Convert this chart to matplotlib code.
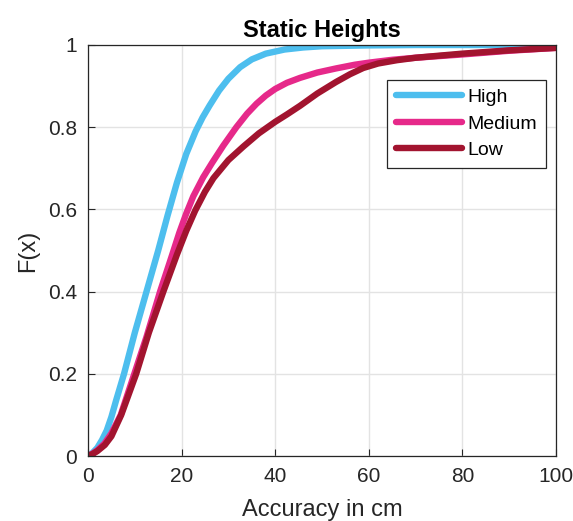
import matplotlib.pyplot as plt
from matplotlib.ticker import FuncFormatter

plt.rcParams['font.family'] = ['Liberation Sans', 'DejaVu Sans']

# CDF curves
high_x = [0, 1, 2, 3, 4, 5, 6, 7.7, 10, 12.5, 15, 17, 19, 21, 23, 24.5, 26, 28, 30, 32.5,
          35, 38, 42, 46, 50, 60, 70, 80, 100]
high_y = [0, 0.008, 0.02, 0.039, 0.062, 0.095, 0.135, 0.2, 0.3, 0.4, 0.5, 0.585, 0.665, 0.735,
          0.79, 0.824, 0.853, 0.889, 0.918, 0.946, 0.965, 0.979, 0.989, 0.994, 0.997, 0.999,
          1.0, 1.0, 1.0]

med_x = [0, 1, 2, 3.5, 5, 7, 9.9, 12.5, 15.4, 18, 19.5, 21, 22.5, 24.6, 26.5, 28.9, 31.7, 34,
         36, 38, 40, 42.5, 45.3, 49, 53, 57, 60, 65, 70, 80, 90, 100]
med_y = [0, 0.006, 0.014, 0.03, 0.055, 0.1, 0.2, 0.29, 0.4, 0.49, 0.543, 0.59, 0.632, 0.678,
         0.713, 0.755, 0.8, 0.833, 0.857, 0.877, 0.893, 0.908, 0.92, 0.933, 0.943, 0.952,
         0.957, 0.964, 0.969, 0.977, 0.986, 0.993]

low_x = [0, 1, 2, 3.6, 5, 7.1, 10.3, 13, 16.1, 19, 21, 22.9, 25, 26.8, 30, 33.2, 36.5, 40,
         42.5, 45.3, 49, 53, 56, 58.8, 62, 66, 70, 80, 90, 100]
low_y = [0, 0.005, 0.012, 0.027, 0.048, 0.1, 0.2, 0.3, 0.4, 0.49, 0.548, 0.597, 0.643,
         0.676, 0.72, 0.753, 0.785, 0.813, 0.831, 0.852, 0.882, 0.91, 0.929, 0.944, 0.955,
         0.963, 0.969, 0.979, 0.987, 0.993]

labels = ['High', 'Medium', 'Low']
colors = ['#4DBEEE', '#E6298A', '#A2142F']

fig = plt.figure(figsize=(5.73, 5.21), dpi=100)
ax = fig.add_axes([88 / 573, 65 / 521, 468 / 573, 411 / 521])

for xs, ys, lab, c in zip([high_x, med_x, low_x], [high_y, med_y, low_y], labels, colors):
    ax.plot(xs, ys, color=c, lw=4.6, label=lab, solid_capstyle='round', solid_joinstyle='round')

ax.set_xlim(0, 100)
ax.set_ylim(0, 1)
ax.set_xticks([0, 20, 40, 60, 80, 100])
ax.set_yticks([0, 0.2, 0.4, 0.6, 0.8, 1])
ax.yaxis.set_major_formatter(FuncFormatter(lambda v, p: '%g' % v))
ax.grid(True, color='#e3e3e3', lw=1)
ax.set_axisbelow(True)
ax.tick_params(direction='in', length=5, labelsize=15, colors='#262626', pad=8)
for s in ax.spines.values():
    s.set_color('#262626')
    s.set_linewidth(0.9)

ax.set_xlabel('Accuracy in cm', fontsize=17, color='#262626', labelpad=9)
ax.set_ylabel('F(x)', fontsize=17, color='#262626', labelpad=6)
ax.set_title('Static Heights', fontsize=17, fontweight='bold', pad=6)

leg = ax.legend(loc='upper right', bbox_to_anchor=(0.979, 0.915), borderaxespad=0,
                fontsize=14, fancybox=False, framealpha=1, edgecolor='#262626',
                handlelength=3.4, handletextpad=0.3, labelspacing=0.45, borderpad=0.45)
leg.get_frame().set_linewidth(0.9)

plt.savefig('out.png', dpi=100)
